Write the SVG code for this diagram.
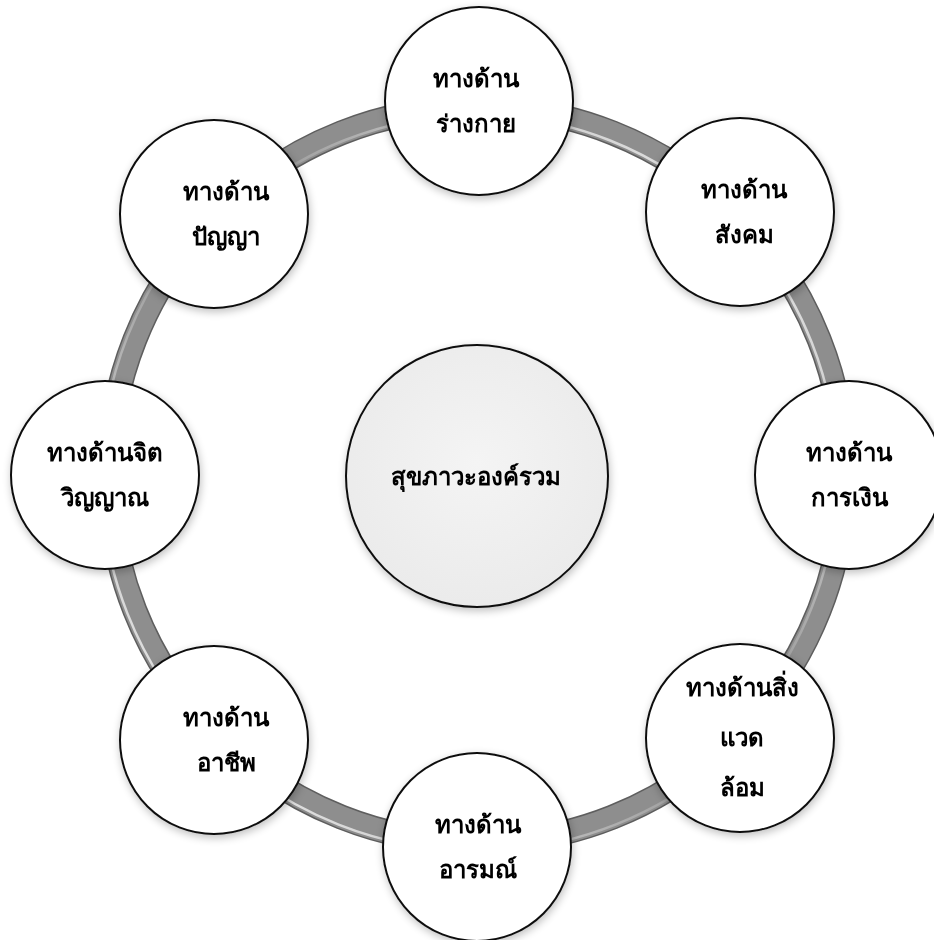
<svg xmlns="http://www.w3.org/2000/svg" width="934" height="940" viewBox="0 0 934 940">
<defs>
<style>
.node{fill:#ffffff;stroke:#111;stroke-width:2}
.t{font-family:"DejaVu Sans","Noto Sans",sans-serif;font-size:24px;font-weight:bold;fill:#000;text-anchor:middle}
</style>
<filter id="sh" x="-20%" y="-20%" width="140%" height="140%">
<feGaussianBlur in="SourceAlpha" stdDeviation="4"/>
<feOffset dx="1" dy="3" result="b"/>
<feComponentTransfer><feFuncA type="linear" slope="0.25"/></feComponentTransfer>
<feMerge><feMergeNode/><feMergeNode in="SourceGraphic"/></feMerge>
</filter>
<radialGradient id="cg" cx="50%" cy="45%" r="60%">
<stop offset="0" stop-color="#f4f4f4"/>
<stop offset="1" stop-color="#eaeaea"/>
</radialGradient>
<linearGradient id="hiOut" gradientUnits="userSpaceOnUse" x1="150" y1="800" x2="800" y2="150">
<stop offset="0" stop-color="#ffffff" stop-opacity="0.9"/>
<stop offset="0.5" stop-color="#ffffff" stop-opacity="0"/>
</linearGradient>
<linearGradient id="hiIn" gradientUnits="userSpaceOnUse" x1="150" y1="800" x2="800" y2="150">
<stop offset="0.5" stop-color="#ffffff" stop-opacity="0"/>
<stop offset="1" stop-color="#ffffff" stop-opacity="0.9"/>
</linearGradient>
</defs>
<rect width="934" height="940" fill="#fff"/>
<g id="connectors">
<circle cx="477" cy="475" r="368" fill="none" stroke="#5e5e5e" stroke-width="25"/>
<circle cx="477" cy="475" r="368" fill="none" stroke="#8e8e8e" stroke-width="22"/>
<circle cx="477" cy="475" r="376" fill="none" stroke="url(#hiOut)" stroke-width="2.5"/>
<circle cx="477" cy="475" r="360" fill="none" stroke="url(#hiIn)" stroke-width="2.5"/>
</g>
<g id="center" filter="url(#sh)">
<circle cx="477" cy="476" r="131" fill="url(#cg)" stroke="#111" stroke-width="2"/>
<text class="t" x="476" y="485">สุขภาวะองค์รวม</text>
</g>
<g id="n-body" filter="url(#sh)">
<circle class="node" cx="479" cy="101" r="94"/>
<text class="t" x="476" y="87">ทางด้าน</text>
<text class="t" x="476" y="132">ร่างกาย</text>
</g>
<g id="n-social" filter="url(#sh)">
<circle class="node" cx="740" cy="212" r="94"/>
<text class="t" x="744" y="198">ทางด้าน</text>
<text class="t" x="744" y="243">สังคม</text>
</g>
<g id="n-finance" filter="url(#sh)">
<circle class="node" cx="849" cy="475" r="94"/>
<text class="t" x="849" y="461">ทางด้าน</text>
<text class="t" x="849" y="506">การเงิน</text>
</g>
<g id="n-env" filter="url(#sh)">
<circle class="node" cx="740" cy="738" r="94"/>
<text class="t" x="742" y="696">ทางด้านสิ่ง</text>
<text class="t" x="742" y="746">แวด</text>
<text class="t" x="742" y="796">ล้อม</text>
</g>
<g id="n-emotion" filter="url(#sh)">
<circle class="node" cx="477" cy="847" r="94"/>
<text class="t" x="478" y="833">ทางด้าน</text>
<text class="t" x="478" y="878">อารมณ์</text>
</g>
<g id="n-career" filter="url(#sh)">
<circle class="node" cx="214" cy="740" r="94"/>
<text class="t" x="226" y="726">ทางด้าน</text>
<text class="t" x="226" y="771">อาชีพ</text>
</g>
<g id="n-spirit" filter="url(#sh)">
<circle class="node" cx="105" cy="475" r="94"/>
<text class="t" x="105" y="461">ทางด้านจิต</text>
<text class="t" x="105" y="506">วิญญาณ</text>
</g>
<g id="n-wisdom" filter="url(#sh)">
<circle class="node" cx="214" cy="214" r="94"/>
<text class="t" x="226" y="200">ทางด้าน</text>
<text class="t" x="226" y="245">ปัญญา</text>
</g>
</svg>
